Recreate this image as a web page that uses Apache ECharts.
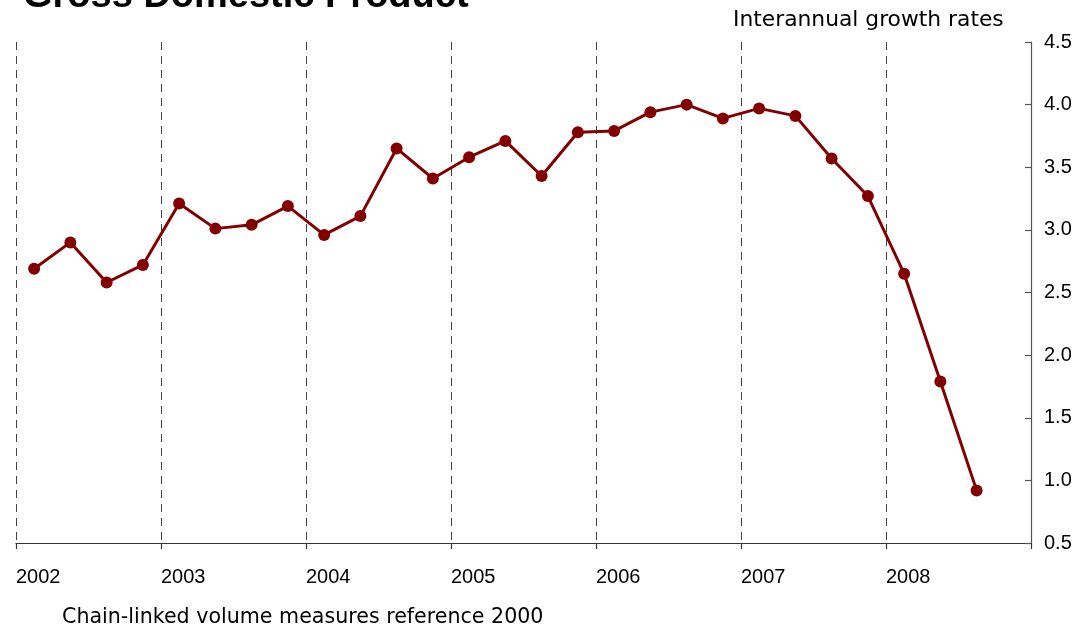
<!DOCTYPE html>
<html><head><meta charset="utf-8">
<script src="https://cdn.jsdelivr.net/npm/echarts@6/dist/echarts.min.js"></script>
<style>html,body{margin:0;padding:0;background:#fff}#c{width:1082px;height:628px}</style>
</head><body><div id="c"></div>
<script>
const quarters = ["2002Q1","2002Q2","2002Q3","2002Q4","2003Q1","2003Q2","2003Q3","2003Q4",
  "2004Q1","2004Q2","2004Q3","2004Q4","2005Q1","2005Q2","2005Q3","2005Q4",
  "2006Q1","2006Q2","2006Q3","2006Q4","2007Q1","2007Q2","2007Q3","2007Q4",
  "2008Q1","2008Q2","2008Q3"];
const growth = [2.69,2.90,2.58,2.72,3.21,3.01,3.04,3.19,
  2.96,3.11,3.65,3.41,3.58,3.71,3.43,3.78,
  3.79,3.94,4.00,3.89,3.97,3.91,3.57,3.27,
  2.65,1.79,0.92];
const yearTicks = [2002,2003,2004,2005,2006,2007,2008];
const yTicks = [0.5,1.0,1.5,2.0,2.5,3.0,3.5,4.0,4.5];

const pts = quarters.map((q,i)=>{
  const yr = +q.slice(0,4), qq = +q.slice(5);
  return [yr + (qq-0.5)/4, growth[i]];
});
const FONT = "Liberation Sans";
const chart = echarts.init(document.getElementById('c'), null, {renderer:'canvas'});
chart.setOption({
  animation:false,
  backgroundColor:'#fff',
  title:{text:'Gross Domestic Product', left:18, top:-27,
    textStyle:{fontFamily:FONT, fontWeight:'bold', fontSize:38, color:'#000'}},
  graphic:[
    {type:'text', left:733, top:9, style:{text:'Interannual growth rates', font:'21.8px "DejaVu Sans"', fill:'#000'}},
    {type:'text', left:62, top:607, style:{text:'Chain-linked volume measures reference 2000', font:'20.6px "DejaVu Sans"', fill:'#000'}}
  ],
  grid:{left:16, right:51, top:42, bottom:85},
  xAxis:{type:'value', min:2002, max:2009, interval:1,
    axisLine:{show:true, onZero:false, lineStyle:{color:'#333', width:1.2}},
    axisTick:{show:true, length:6, lineStyle:{color:'#333', width:1.2}},
    axisLabel:{show:true, align:'left', margin:24, fontFamily:FONT, fontSize:20, color:'#000',
      formatter:v=> yearTicks.includes(v) ? String(v) : ''},
    splitLine:{show:true, lineStyle:{color:'#444', width:1, type:[8,6]}}
  },
  yAxis:{type:'value', position:'right', min:0.5, max:4.5, interval:0.5,
    axisLine:{show:true, lineStyle:{color:'#555', width:1.2}},
    axisTick:{show:true, inside:true, length:6, lineStyle:{color:'#555', width:1.2}},
    axisLabel:{show:true, margin:13, fontFamily:FONT, fontSize:20, color:'#000', padding:[5,0,0,0],
      formatter:v=> yTicks.some(t=>Math.abs(t-v)<1e-9) ? v.toFixed(1) : ''},
    splitLine:{show:false}
  },
  series:[{type:'line', data:pts, symbol:'circle', symbolSize:12,
    lineStyle:{color:'#820000', width:3}, itemStyle:{color:'#820000'}}]
});
</script></body></html>
